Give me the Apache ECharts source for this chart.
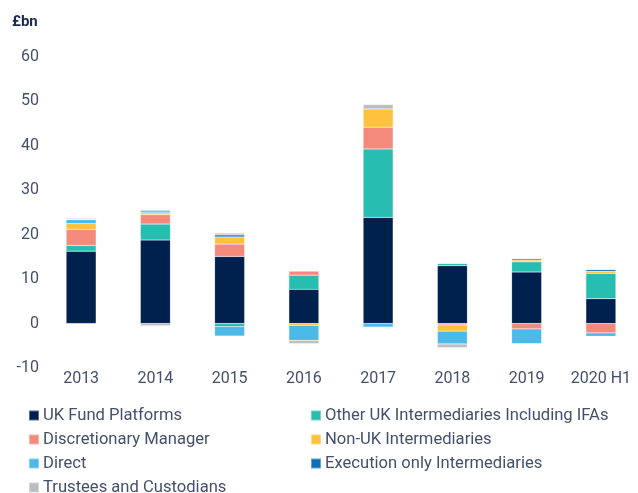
<!DOCTYPE html>
<html>
<head>
<meta charset="utf-8">
<script src="https://cdn.jsdelivr.net/npm/echarts@6/dist/echarts.min.js"></script>
<style>
  html, body { margin: 0; padding: 0; background: #ffffff; }
  #chart { width: 638px; height: 493px; }
</style>
</head>
<body>
<div id="chart"></div>
<script>
// Net retail sales by distribution channel, £bn
const categories = ['2013', '2014', '2015', '2016', '2017', '2018', '2019', '2020 H1'];

const ukFundPlatforms   = [16.3, 18.8, 15.1, 7.7, 23.9, 13.0, 11.6, 5.6];
const otherUkIntermed   = [1.3, 3.6, -0.7, 3.2, 15.4, 0.5, 2.3, 5.7];
const discretionaryMgr  = [3.6, 2.1, 2.8, 0.9, 4.9, -0.3, -1.2, -2.1];
const nonUkIntermed     = [1.3, 0.4, 1.6, -0.4, 4.1, -1.4, 0.4, 0.45];
const direct            = [0.9, 0.25, -2.1, -3.4, -0.8, -2.9, -3.3, -0.75];
const executionOnly     = [0.1, 0.3, 0.45, 0, 0, 0, 0.3, 0.4];
const trusteesCustodian = [0.2, -0.5, 0.4, -0.7, 1.0, -0.8, 0.15, 0];

const yTicks = { min: -10, max: 60, interval: 10 };

const seriesDefs = [
  { name: 'UK Fund Platforms', data: ukFundPlatforms, color: '#00204e' },
  { name: 'Other UK Intermediaries Including IFAs', data: otherUkIntermed, color: '#27bdb0' },
  { name: 'Discretionary Manager', data: discretionaryMgr, color: '#f48a7b' },
  { name: 'Non-UK Intermediaries', data: nonUkIntermed, color: '#fec23c' },
  { name: 'Direct', data: direct, color: '#4cb9e8' },
  { name: 'Execution only Intermediaries', data: executionOnly, color: '#0b71b6' },
  { name: 'Trustees and Custodians', data: trusteesCustodian, color: '#bcbdc0' }
];

const textColor = '#44506b';
const fontFamily = 'Roboto, "Noto Sans", sans-serif';

const legendCommon = {
  orient: 'vertical',
  top: 407,
  height: 140,
  padding: 0,
  itemWidth: 10,
  itemHeight: 10,
  itemGap: 7,
  icon: 'rect',
  selectedMode: false,
  textStyle: { color: textColor, fontSize: 16.6, fontFamily: fontFamily, lineHeight: 16, padding: [0, 0, 0, -1] }
};

const chart = echarts.init(document.getElementById('chart'));
chart.setOption({
  animation: false,
  textStyle: { fontFamily: fontFamily },
  title: {
    text: '£bn',
    left: 7,
    top: 10,
    textStyle: { fontSize: 15, fontWeight: 'bold', color: '#1b2a4e', fontFamily: fontFamily }
  },
  legend: [
    Object.assign({}, legendCommon, {
      left: 28,
      data: ['UK Fund Platforms', 'Discretionary Manager', 'Direct', 'Trustees and Custodians']
    }),
    Object.assign({}, legendCommon, {
      left: 310,
      data: ['Other UK Intermediaries Including IFAs', 'Non-UK Intermediaries', 'Execution only Intermediaries']
    })
  ],
  grid: { left: 44, width: 598, top: 57, bottom: 125, containLabel: false },
  xAxis: {
    type: 'category',
    data: categories,
    axisLine: { show: false, onZero: false },
    axisTick: { show: false },
    axisLabel: { color: textColor, fontSize: 16, margin: 3, interval: 0, fontFamily: fontFamily }
  },
  yAxis: {
    type: 'value',
    min: yTicks.min,
    max: yTicks.max,
    interval: yTicks.interval,
    axisLine: { show: false },
    axisTick: { show: false },
    splitLine: { show: false },
    axisLabel: { color: textColor, fontSize: 16, margin: 5, fontFamily: fontFamily }
  },
  series: seriesDefs.map(s => ({
    name: s.name,
    type: 'bar',
    stack: 'total',
    data: s.data,
    barWidth: 30,
    itemStyle: { color: s.color, borderColor: 'rgba(255,255,255,0.35)', borderWidth: 0.5 }
  }))
});
</script>
</body>
</html>
